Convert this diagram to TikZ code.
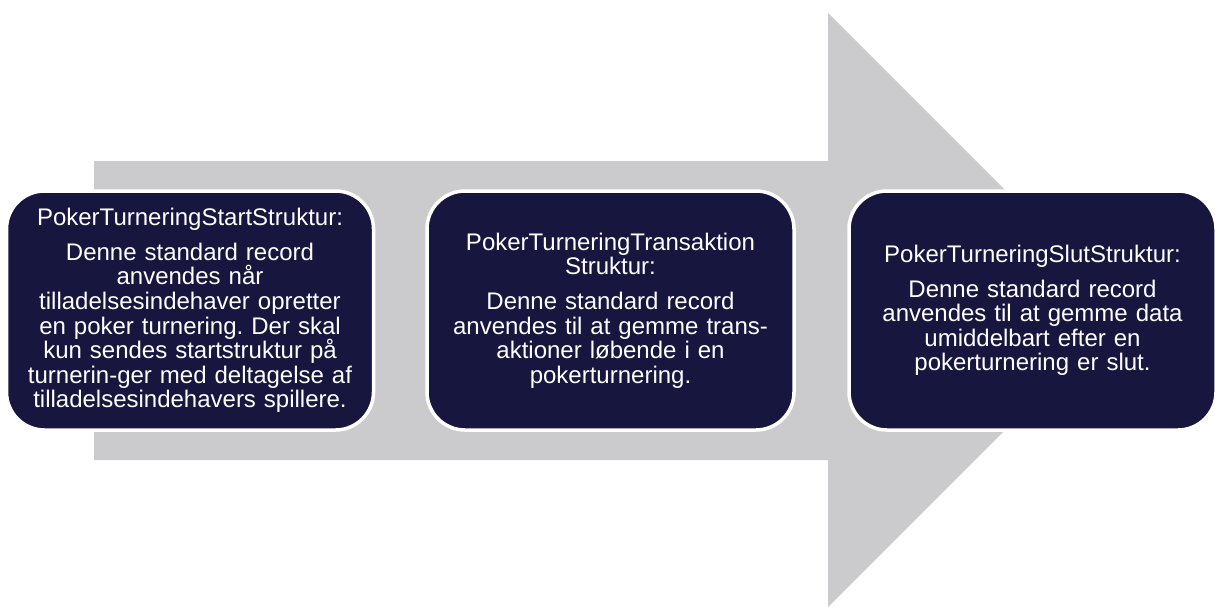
\documentclass[tikz,border=0pt]{standalone}
\usepackage{fontspec}
\setmainfont{Liberation Sans}
\frenchspacing
\definecolor{navy}{HTML}{17163E}
\definecolor{arrowgray}{HTML}{CBCBCD}
\begin{document}
\begin{tikzpicture}[x=1pt,y=-1pt,
  recbox/.style={draw=white, line width=3.5pt, fill=navy, rounded corners=38pt,
    minimum width=367pt, minimum height=239pt, inner sep=0pt,
    text width=360pt, align=center, text=white,
    font=\fontsize{24}{24.6}\selectfont}]
\useasboundingbox (0,0) rectangle (1215,607);
% big arrow
\fill[arrowgray] (94,161) -- (828,161) -- (828,13) -- (1125,310) -- (828,607)
  -- (828,460) -- (94,460) -- cycle;
% boxes
\node[recbox] (start) at (190,310.5) {PokerTurneringStartStruktur:\\[10pt]
Denne standard record\\
anvendes når\\
tilladelsesindehaver opretter\\
en poker turnering. Der skal\\
kun sendes startstruktur på\\
turnerin-ger med deltagelse af\\
tilladelsesindehavers spillere.};
\node[recbox] (trans) at (610.5,310.5) {PokerTurneringTransaktion\\
Struktur:\\[10pt]
Denne standard record\\
anvendes til at gemme trans-\\
aktioner løbende i en\\
pokerturnering.};
\node[recbox] (slut) at (1032.5,310.5) {PokerTurneringSlutStruktur:\\[10pt]
Denne standard record\\
anvendes til at gemme data\\
umiddelbart efter en\\
pokerturnering er slut.};
\end{tikzpicture}
\end{document}
